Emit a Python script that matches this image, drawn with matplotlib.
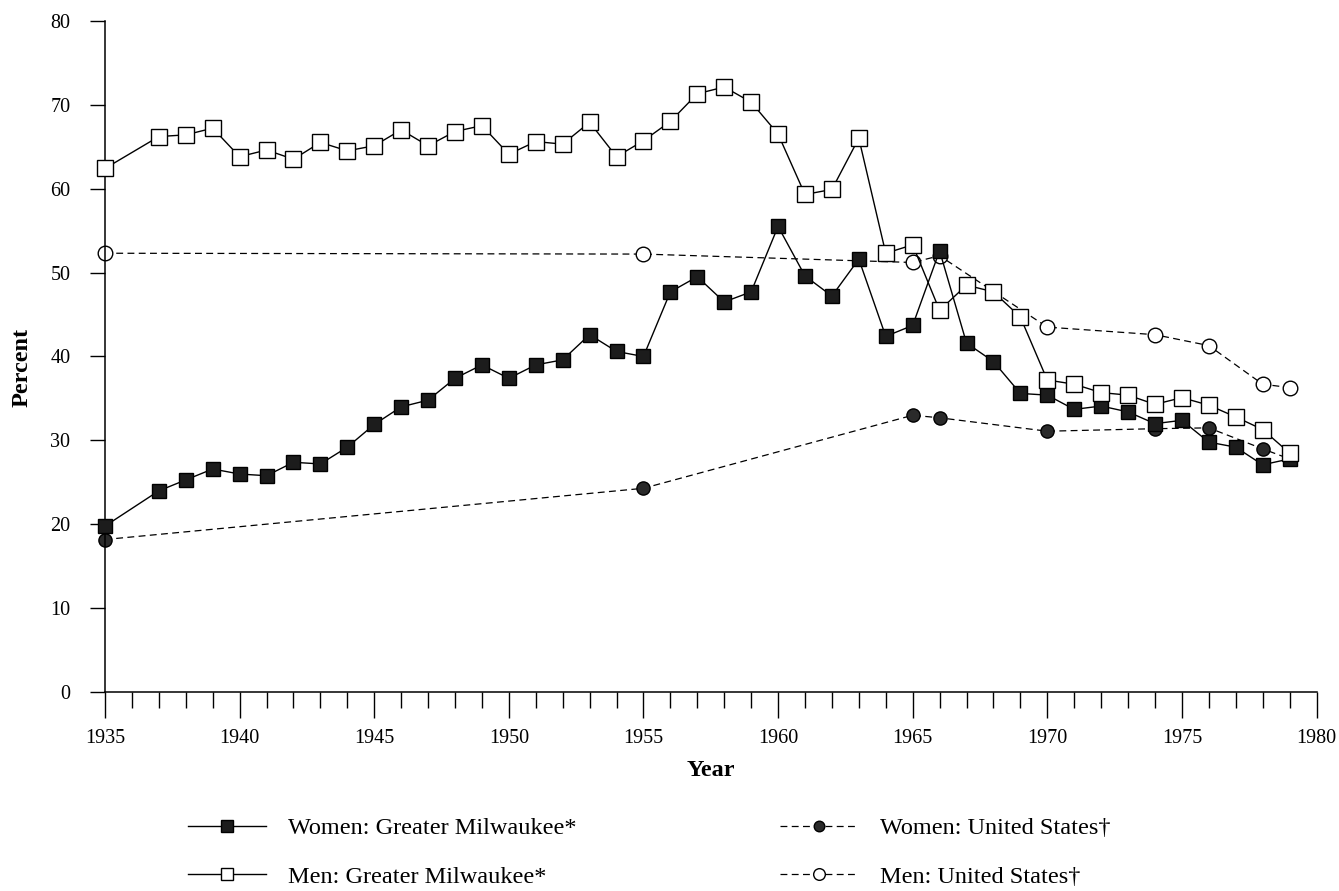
import matplotlib.pyplot as plt
from matplotlib.ticker import MultipleLocator

plt.rcParams['font.family'] = ['Liberation Serif', 'DejaVu Serif']

# Greater Milwaukee series (no 1936 value)
gm_years = [1935] + list(range(1937, 1980))
women_gm = [19.8, 24.0, 25.3, 26.6, 26.0, 25.8, 27.4, 27.2, 29.2, 31.9,
            34.0, 34.8, 37.4, 39.0, 37.4, 39.0, 39.6, 42.6, 40.6, 40.0,
            47.7, 49.5, 46.5, 47.7, 55.5, 49.6, 47.2, 51.6, 42.4, 43.7,
            52.6, 41.6, 39.4, 35.6, 35.4, 33.7, 34.1, 33.4, 32.0, 32.4,
            29.8, 29.2, 27.1, 27.8]
men_gm = [62.4, 66.2, 66.4, 67.2, 63.8, 64.6, 63.5, 65.5, 64.5, 65.1,
          67.0, 65.1, 66.8, 67.5, 64.1, 65.6, 65.3, 67.9, 63.8, 65.7,
          68.0, 71.3, 72.1, 70.3, 66.5, 59.3, 59.9, 66.0, 52.3, 53.3,
          45.5, 48.5, 47.7, 44.7, 37.2, 36.7, 35.7, 35.4, 34.3, 35.1,
          34.2, 32.8, 31.3, 28.5]

# United States series
us_years = [1935, 1955, 1965, 1966, 1970, 1974, 1976, 1978, 1979]
women_us = [18.2, 24.3, 33.0, 32.7, 31.1, 31.4, 31.5, 29.0, 27.8]
men_us = [52.3, 52.2, 51.2, 52.0, 43.5, 42.6, 41.3, 36.7, 36.3]

fig = plt.figure(figsize=(13.39, 8.91), dpi=100)
ax = fig.add_axes([105 / 1339, 1 - 692.3 / 891, 1211.5 / 1339, 671.6 / 891])

dash = (0, (5.5, 3.5))
l_wus, = ax.plot(us_years, women_us, linestyle=dash, color='black', lw=0.9,
                 marker='o', markersize=9.5, markerfacecolor='#2a2a2a',
                 markeredgecolor='black', markeredgewidth=1, clip_on=False, zorder=2)
l_mus, = ax.plot(us_years, men_us, linestyle=dash, color='black', lw=0.9,
                 marker='o', markersize=10.5, markerfacecolor='white',
                 markeredgecolor='black', markeredgewidth=1, clip_on=False, zorder=2)
l_wgm, = ax.plot(gm_years, women_gm, linestyle='-', color='black', lw=1.0,
                 marker='s', markersize=10.5, markerfacecolor='#1c1c1c',
                 markeredgecolor='black', markeredgewidth=1, clip_on=False, zorder=3)
l_mgm, = ax.plot(gm_years, men_gm, linestyle='-', color='black', lw=1.0,
                 marker='s', markersize=11, markerfacecolor='white',
                 markeredgecolor='black', markeredgewidth=1, clip_on=False, zorder=3)

ax.set_xlim(1935, 1980)
ax.set_ylim(0, 80)
ax.spines['top'].set_visible(False)
ax.spines['right'].set_visible(False)
for s in ['left', 'bottom']:
    ax.spines[s].set_linewidth(1.1)

ax.xaxis.set_major_locator(MultipleLocator(5))
ax.xaxis.set_minor_locator(MultipleLocator(1))
ax.yaxis.set_major_locator(MultipleLocator(10))
ax.tick_params(axis='x', which='major', direction='out', length=18.5, width=1.0,
               pad=8, labelsize=14.5)
ax.tick_params(axis='x', which='minor', direction='out', length=11.5, width=1.0)
ax.tick_params(axis='y', which='major', direction='out', length=11, width=1.0,
               pad=14, labelsize=14.5)

ax.set_xlabel('Year', fontsize=17.5, fontweight='bold')
ax.xaxis.set_label_coords(0.5, -0.101)
ax.set_ylabel('Percent', fontsize=17.5, fontweight='bold', va='center')
ax.yaxis.set_label_coords(-0.0685, 0.484)

leg_kw = dict(frameon=False, fontsize=17.5, handlelength=3.2, handletextpad=0.9,
              labelspacing=1.1, borderpad=0, borderaxespad=0, markerscale=0.8)
leg1 = fig.legend([l_wgm, l_mgm],
                  ['Women: Greater Milwaukee*', 'Men: Greater Milwaukee*'],
                  loc='upper left', bbox_to_anchor=(188 / 1339, 1 - 817 / 891), **leg_kw)
leg2 = fig.legend([l_wus, l_mus],
                  ['Women: United States\u2020', 'Men: United States\u2020'],
                  loc='upper left', bbox_to_anchor=(780 / 1339, 1 - 817 / 891), **leg_kw)

fig.savefig('out.png', dpi=100)
